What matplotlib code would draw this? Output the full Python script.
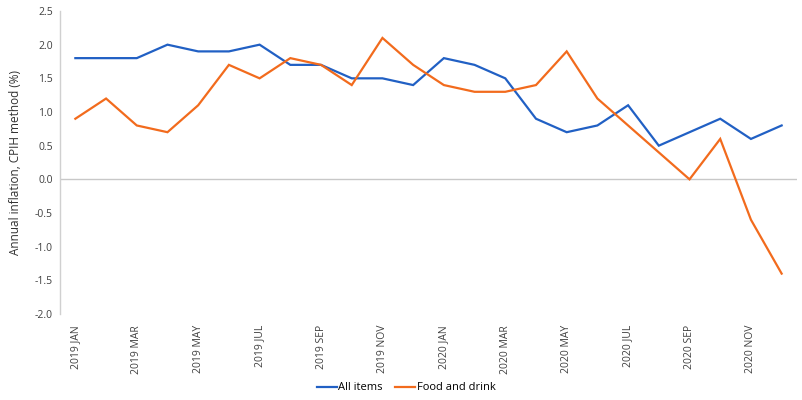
import matplotlib
matplotlib.use("Agg")
import matplotlib.pyplot as plt

months = ["2019 JAN", "2019 FEB", "2019 MAR", "2019 APR", "2019 MAY", "2019 JUN",
          "2019 JUL", "2019 AUG", "2019 SEP", "2019 OCT", "2019 NOV", "2019 DEC",
          "2020 JAN", "2020 FEB", "2020 MAR", "2020 APR", "2020 MAY", "2020 JUN",
          "2020 JUL", "2020 AUG", "2020 SEP", "2020 OCT", "2020 NOV", "2020 DEC"]
all_items = [1.8, 1.8, 1.8, 2.0, 1.9, 1.9, 2.0, 1.7, 1.7, 1.5, 1.5, 1.4,
             1.8, 1.7, 1.5, 0.9, 0.7, 0.8, 1.1, 0.5, 0.7, 0.9, 0.6, 0.8]
food_drink = [0.9, 1.2, 0.8, 0.7, 1.1, 1.7, 1.5, 1.8, 1.7, 1.4, 2.1, 1.7,
              1.4, 1.3, 1.3, 1.4, 1.9, 1.2, 0.8, 0.4, 0.0, 0.6, -0.6, -1.4]
y_ticks = [2.5, 2.0, 1.5, 1.0, 0.5, 0.0, -0.5, -1.0, -1.5, -2.0]

plt.rcParams['font.family'] = ['Open Sans', 'DejaVu Sans']

fig = plt.figure(figsize=(8.03, 4.00), dpi=100)
ax = fig.add_axes([60/803, 1 - 314/400, (797-60)/803, (314-11)/400])

x = list(range(len(months)))
ax.plot(x, all_items, color='#2160c4', lw=1.6, label='All items', solid_joinstyle='miter')
ax.plot(x, food_drink, color='#f26b1d', lw=1.6, label='Food and drink', solid_joinstyle='miter')

ax.axhline(0, color='#c8c8c8', lw=1.0, zorder=0)
ax.set_xlim(-0.5, len(months) - 0.5)
ax.set_ylim(-2.0, 2.5)
ax.set_yticks(y_ticks)
ax.set_yticklabels([f"{v:.1f}" for v in y_ticks], fontsize=7.5, color='#404040')
ax.set_xticks(x[::2])
ax.set_xticklabels(months[::2], rotation=90, fontsize=7.5, color='#404040')
ax.tick_params(axis='y', length=0, pad=5)
ax.tick_params(axis='x', length=0, pad=8)

for s in ['top', 'right', 'bottom']:
    ax.spines[s].set_visible(False)
ax.spines['left'].set_color('#d0d0d0')
ax.spines['left'].set_linewidth(1.0)

ax.set_ylabel("Annual inflation, CPIH method (%)", fontsize=8.5, color='#303030', labelpad=9)

fig.legend(loc='center', bbox_to_anchor=(406/803, 1 - 388/400), ncol=2, frameon=False,
           fontsize=8, handlelength=1.8, handletextpad=0.1, columnspacing=1.2)

fig.savefig("out.png", dpi=100, facecolor='white')
